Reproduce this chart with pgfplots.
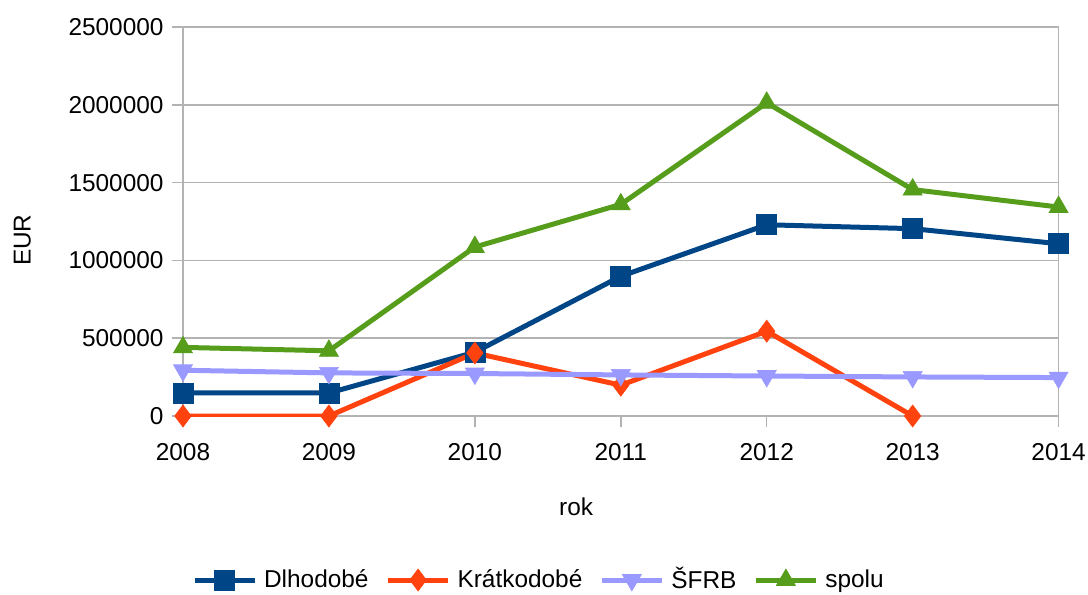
\documentclass[border=0pt]{standalone}
\usepackage{pgfplots}
\pgfplotsset{compat=1.18}
\usepackage{fontspec}
\setmainfont{Liberation Sans}
\definecolor{cDl}{HTML}{004586}
\definecolor{cKr}{HTML}{FF420E}
\definecolor{cSF}{HTML}{9999FF}
\definecolor{cSp}{HTML}{579D1C}
\definecolor{gridc}{HTML}{B3B3B3}
\begin{document}
\fontsize{12.2bp}{15bp}\selectfont
\begin{tikzpicture}
\useasboundingbox (-91.5bp,-89.5bp) rectangle (452.5bp,208bp);
\begin{axis}[
  at={(0,0)}, anchor=south west,
  scale only axis, width=437.8bp, height=194.5bp,
  xmin=2008, xmax=2014, ymin=0, ymax=2500000,
  xtick={2008,2009,2010,2011,2012,2013,2014},
  ytick={0,500000,1000000,1500000,2000000,2500000},
  scaled y ticks=false,
  /pgf/number format/.cd, 1000 sep={}, fixed, assume math mode=true, /pgfplots/.cd,
  tick pos=left, tick align=outside, major tick length=5.5bp,
  xticklabel style={yshift=-4bp},
  axis line style={draw=gridc, line width=0.75bp},
  tick style={draw=gridc, line width=0.75bp},
  ymajorgrids, grid style={draw=gridc, line width=0.75bp},
  xlabel={rok}, ylabel={EUR},
  xlabel style={at={(axis description cs:0.449,-0.234)}, anchor=center},
  ylabel style={at={(axis description cs:-0.1836,0.452)}, anchor=center, rotate=0},
  legend style={at={(axis description cs:0.010,-0.4216)}, anchor=west, draw=none, fill=none, inner sep=0pt,
    legend columns=4, /tikz/every even column/.append style={column sep=6.5bp},
    /tikz/every odd column/.append style={column sep=1.5bp}},
  legend image code/.code={\draw[#1,mark repeat=2,mark phase=2] plot coordinates {(0bp,0bp) (15bp,0bp) (30bp,0bp)};},
  every axis plot/.append style={line width=2.5bp},
]
\addplot[color=cDl, mark=square*, mark size=5bp, mark options={line width=0.3bp}] coordinates {
(2008,148000) (2009,148000) (2010,410000) (2011,898000) (2012,1229000) (2013,1204000) (2014,1107000)};
\addlegendentry{Dlhodobé}
\addplot[color=cKr, mark=diamond*, mark size=5.5bp, mark options={line width=0.3bp}] coordinates {
(2008,0) (2009,0) (2010,405000) (2011,198000) (2012,545000) (2013,0)};
\addlegendentry{Krátkodobé}
\addplot[color=cSF, mark=triangle*, mark size=5.5bp, mark options={line width=0.3bp, rotate=180}] coordinates {
(2008,294000) (2009,277000) (2010,273000) (2011,264000) (2012,257000) (2013,251000) (2014,247000)};
\addlegendentry{ŠFRB}
\addplot[color=cSp, mark=triangle*, mark size=5.5bp, mark options={line width=0.3bp}] coordinates {
(2008,441000) (2009,419000) (2010,1086000) (2011,1360000) (2012,2013000) (2013,1455000) (2014,1343000)};
\addlegendentry{spolu}
\end{axis}
\end{tikzpicture}
\end{document}
